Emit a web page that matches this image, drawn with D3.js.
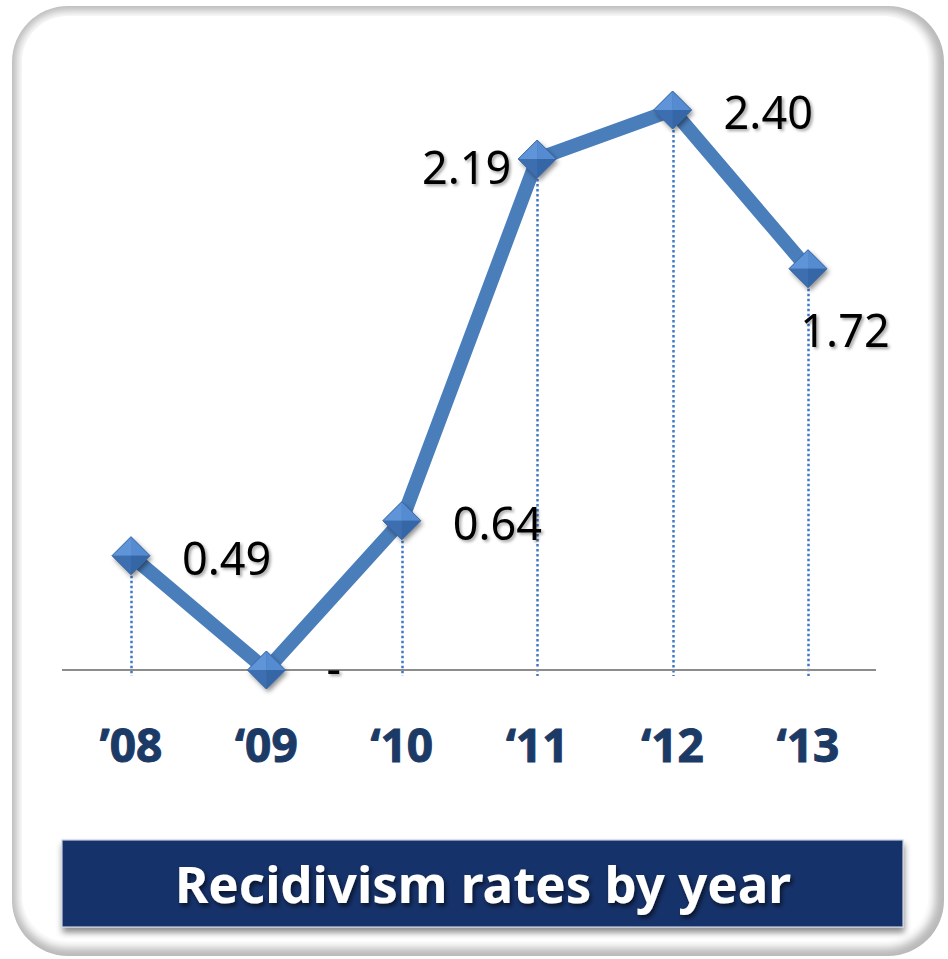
<!DOCTYPE html>
<html>
<head>
<meta charset="utf-8">
<script src="https://cdn.jsdelivr.net/npm/d3@7"></script>
<style>
  html, body { margin: 0; padding: 0; background: #ffffff; }
  svg { display: block; }
</style>
</head>
<body>
<script>
// Recidivism rate per year (%)
const years = ["’08", "‘09", "‘10", "‘11", "‘12", "‘13"];
const rates = [0.49, 0, 0.64, 2.19, 2.40, 1.72];
const title = "Recidivism rates by year";

const W = 948, H = 959;
const svg = d3.select("body").append("svg").attr("width", W).attr("height", H);
const defs = svg.append("defs");

// soft edge for the card
defs.append("filter").attr("id", "soft").attr("x", "-5%").attr("y", "-5%").attr("width", "110%").attr("height", "110%")
  .append("feGaussianBlur").attr("stdDeviation", 4);

const txtShadow = defs.append("filter").attr("id", "txtShadow").attr("x", "-10%").attr("y", "-10%").attr("width", "130%").attr("height", "140%");
txtShadow.append("feDropShadow").attr("dx", 2).attr("dy", 2).attr("stdDeviation", 1.5)
  .attr("flood-color", "#000").attr("flood-opacity", 0.35);

const titleShadow = defs.append("filter").attr("id", "titleShadow").attr("x", "-10%").attr("y", "-10%").attr("width", "130%").attr("height", "140%");
titleShadow.append("feDropShadow").attr("dx", 2).attr("dy", 3).attr("stdDeviation", 2)
  .attr("flood-color", "#000").attr("flood-opacity", 0.6);

const boxShadow = defs.append("filter").attr("id", "boxShadow").attr("x", "-5%").attr("y", "-20%").attr("width", "110%").attr("height", "150%");
boxShadow.append("feDropShadow").attr("dx", 1).attr("dy", 5).attr("stdDeviation", 3)
  .attr("flood-color", "#000").attr("flood-opacity", 0.45);

const markShadow = defs.append("filter").attr("id", "markShadow").attr("x", "-50%").attr("y", "-50%").attr("width", "200%").attr("height", "200%");
markShadow.append("feDropShadow").attr("dx", 2).attr("dy", 3).attr("stdDeviation", 2.5)
  .attr("flood-color", "#000").attr("flood-opacity", 0.45);

// card background with shaded rim
svg.append("rect").attr("x", 12).attr("y", 6).attr("width", 932).attr("height", 950)
  .attr("rx", 56).attr("fill", "#b8b8b8");
svg.append("rect").attr("x", 17).attr("y", 11).attr("width", 918).attr("height", 937)
  .attr("rx", 50).attr("fill", "#ffffff").attr("filter", "url(#soft)");
svg.append("rect").attr("x", 22).attr("y", 16).attr("width", 906).attr("height", 925)
  .attr("rx", 46).attr("fill", "#ffffff");

// scales
const x = d3.scalePoint().domain(years).range([131, 808]);
const y = d3.scaleLinear().domain([0, 2.4]).range([670, 110]);

const blue = "#4a7ebb";

// dotted drop lines
svg.append("g").selectAll("line").data(years).join("line")
  .attr("x1", d => Math.round(x(d)) + 0.5).attr("x2", d => Math.round(x(d)) + 0.5)
  .attr("y1", (d, i) => y(rates[i])).attr("y2", y(0) + 6)
  .attr("stroke", "#3f78c4").attr("stroke-width", 2.5).attr("stroke-dasharray", "2.5,2.5");

// baseline
svg.append("line").attr("x1", 62).attr("x2", 876).attr("y1", y(0)).attr("y2", y(0))
  .attr("stroke", "#8c8c8c").attr("stroke-width", 2);

// line
const line = d3.line().x((d, i) => x(years[i])).y(d => y(d));
svg.append("path").datum(rates).attr("d", line)
  .attr("fill", "none").attr("stroke", blue).attr("stroke-width", 14)
  .attr("stroke-linejoin", "miter");

// diamond markers, faceted
const r = 19;
const mk = svg.append("g").selectAll("g").data(rates).join("g")
  .attr("transform", (d, i) => `translate(${x(years[i])},${y(d)})`);
mk.append("path").attr("d", `M0,${-r}L${r},0L0,${r}L${-r},0Z`).attr("fill", "#3f72b4").attr("filter", "url(#markShadow)");
mk.append("path").attr("d", `M0,${-r}L0,0L${-r},0Z`).attr("fill", "#5f95d8");
mk.append("path").attr("d", `M0,${-r}L${r},0L0,0Z`).attr("fill", "#558bd0");
mk.append("path").attr("d", `M${-r},0L0,0L0,${r}Z`).attr("fill", "#3d6fb0");
mk.append("path").attr("d", `M0,0L${r},0L0,${r}Z`).attr("fill", "#3566a6");
mk.append("path").attr("d", `M0,${-r}L${r},0L0,${r}L${-r},0Z`).attr("fill", "none")
  .attr("stroke", "#3a68a6").attr("stroke-width", 1);

// value labels: placement relative to each point
const place = ["right", "right", "right", "left", "right", "below"];
const fmt = v => v === 0 ? "-" : v.toFixed(2);
svg.append("g").selectAll("text").data(rates).join("text")
  .attr("x", (d, i) => {
    const px = x(years[i]);
    if (place[i] === "left") return px - 26;
    if (place[i] === "below") return px + 37;
    return px + (d === 0 ? 60 : 51);
  })
  .attr("y", (d, i) => {
    const py = y(d);
    if (place[i] === "left") return py + 25;
    if (place[i] === "below") return py + 78;
    return py + (d === 0 ? 14 : 19);
  })
  .attr("text-anchor", (d, i) => place[i] === "left" ? "end" : place[i] === "below" ? "middle" : "start")
  .attr("font-family", "'Noto Sans', 'Open Sans', sans-serif")
  .attr("font-size", 45).attr("fill", "#000")
  .attr("filter", "url(#txtShadow)")
  .text(fmt);

// x axis labels
svg.append("g").selectAll("text").data(years).join("text")
  .attr("x", d => x(d)).attr("y", 762)
  .attr("text-anchor", "middle")
  .attr("font-family", "'Noto Sans', 'Open Sans', sans-serif")
  .attr("font-weight", "bold").attr("font-size", 46).attr("fill", "#1b3a66")
  .attr("stroke", "#1b3a66").attr("stroke-width", 1)
  .text(d => d);

// title box
svg.append("rect").attr("x", 62).attr("y", 840).attr("width", 841).attr("height", 87)
  .attr("fill", "#17336a").attr("stroke", "#c7cfdd").attr("stroke-width", 1.2)
  .attr("filter", "url(#boxShadow)");
svg.append("text").attr("x", 483).attr("y", 903).attr("text-anchor", "middle")
  .attr("font-family", "'Noto Sans', 'Open Sans', sans-serif")
  .attr("font-weight", "bold").attr("font-size", 51).attr("fill", "#ffffff")
  .attr("filter", "url(#titleShadow)")
  .text(title);
</script>
</body>
</html>
